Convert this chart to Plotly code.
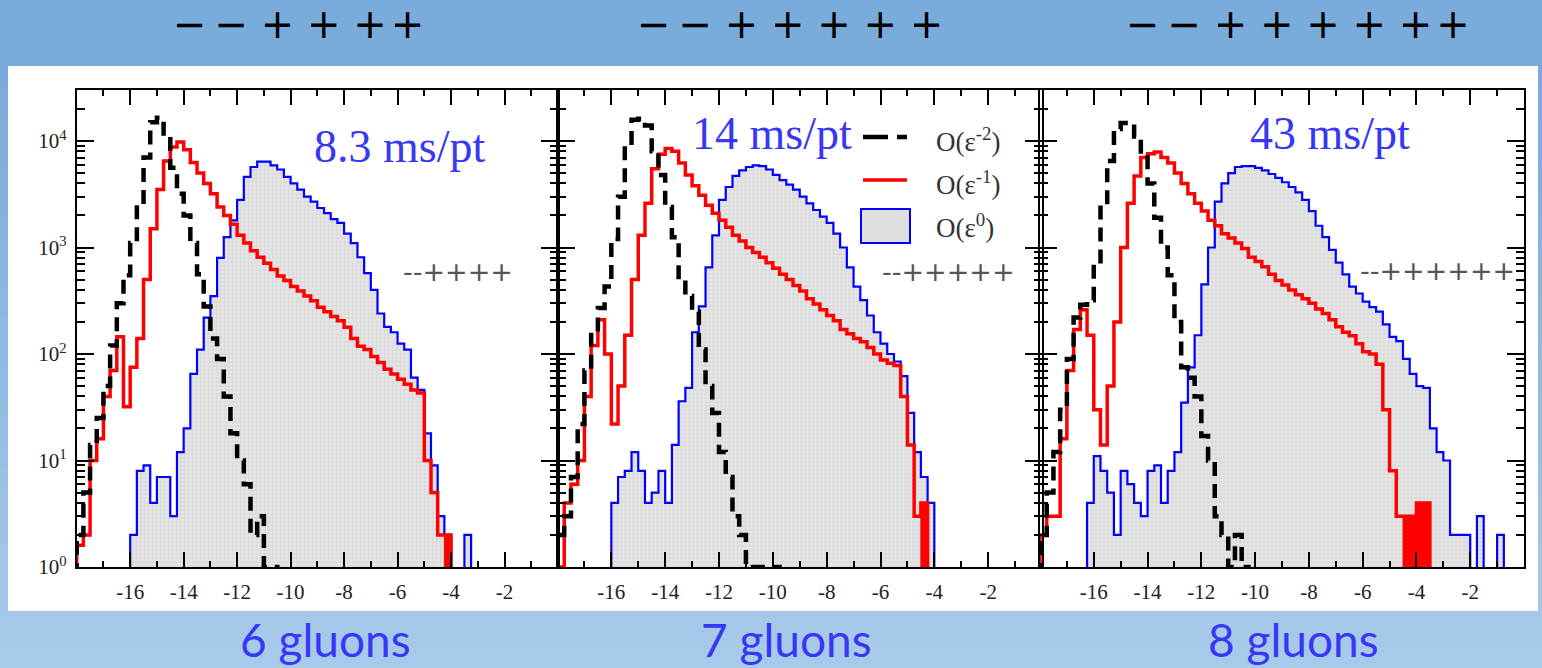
import numpy as np
import plotly.graph_objects as go

W, H = 1542, 668
BIN = 0.25  # histogram bin width (log10 units)

# ---------------- text / labels ----------------
GLUONS = ["6 gluons", "7 gluons", "8 gluons"]
TIMING = ["8.3 ms/pt", "14 ms/pt", "43 ms/pt"]
HEL_SMALL = ["--++++", "--+++++", "--++++++"]
HEL_BIG = ["\u2212\u2009\u2212 + + +\u200a+",
           "\u2212\u2009\u2212 + + + + +",
           "\u2212\u2009\u2212 + + + + +\u200a+"]
LEGEND = ["O(\u03b5<sup>-2</sup>)", "O(\u03b5<sup>-1</sup>)", "O(\u03b5<sup>0</sup>)"]
X_TICKS = [-16, -14, -12, -10, -8, -6, -4, -2]
X_MINOR = [-17, -15, -13, -11, -9, -7, -5, -3, -1]
Y_TICKS = [1, 10, 100, 1000, 10000]
Y_TICKTEXT = ["10<sup>0</sup>", "10<sup>1</sup>", "10<sup>2</sup>", "10<sup>3</sup>", "10<sup>4</sup>"]
Y_MINOR = [m * 10 ** k for k in range(0, 5) for m in range(2, 10)]

# ---------------- data: counts per bin, first bin edge given ----------------
# 6 gluons
P1_BLACK_START = -18.0
P1_BLACK = [2, 5, 14, 25, 50, 120, 300, 550, 1100, 2500, 7000, 15000, 16500, 11000, 5600, 3200,
            2000, 1100, 560, 280, 140, 90, 40, 18, 10, 6, 2, 3, 1, 1]
P1_RED_START = -18.0
P1_RED = [1.6, 2, 10, 16, 40, 70, 145, 32, 75, 140, 500, 1500, 3500, 6500, 8800, 9800,
          8300, 6300, 5000, 4000, 3200, 2400, 2000, 1650, 1300, 1100, 930, 810, 710, 620, 540, 490,
          430, 390, 350, 316, 275, 250, 225, 205, 178, 140, 118, 110, 95, 83, 72, 65,
          58, 52, 46, 43, 10, 5, 2, 2]
P1_RED_SOLID = (-4.25, -4.0)  # x-range where the red histogram is drawn solid
P1_BLUE_START = -16.0
P1_BLUE = [2, 8, 9, 4, 7, 7, 3, 12, 20, 65, 110, 220, 350, 800, 1250, 1800,
           2800, 4600, 5700, 6400, 6400, 5900, 5400, 4600, 4000, 3500, 3000, 2700, 2350, 2100, 1850, 1700,
           1350, 1100, 810, 575, 400, 240, 180, 160, 125, 110, 60, 46, 18, 9, 3, 2,
           0, 0, 2]

# 7 gluons
P2_BLACK_START = -18.0
P2_BLACK = [2, 3, 7, 22, 70, 160, 270, 430, 1200, 3000, 9000, 15800, 16200, 14000, 8000, 4800,
            2400, 1250, 500, 350, 250, 110, 50, 28, 12, 7, 3, 2, 1, 1, 1, 1, 1]
P2_RED_START = -18.0
P2_RED = [1, 4, 6, 10, 40, 120, 210, 100, 22, 50, 150, 500, 1300, 2600, 5500, 7500,
          8500, 8000, 6200, 4800, 3800, 3100, 2500, 2100, 1800, 1550, 1300, 1150, 1000, 900, 810, 720,
          640, 560, 500, 440, 390, 330, 295, 260, 230, 205, 170, 155, 140, 130, 115, 100,
          88, 82, 78, 40, 14, 3, 4]
P2_RED_SOLID = (-4.5, -4.25)
P2_BLUE_START = -16.0
P2_BLUE = [4, 7, 8, 12, 8, 4, 5, 8, 4, 14, 36, 48, 160, 280, 650, 1300,
           2800, 3700, 4700, 5300, 5700, 5900, 5800, 5400, 4800, 4300, 3900, 3500, 3000, 2600, 2250, 1950,
           1700, 1350, 1000, 650, 430, 320, 230, 160, 125, 100, 85, 62, 28, 12, 7, 4]

# 8 gluons
P3_BLACK_START = -18.0
P3_BLACK = [2, 5, 12, 30, 90, 220, 290, 320, 700, 2500, 6500, 13000, 14800, 14800, 11000, 7500,
            4000, 1900, 1000, 550, 200, 75, 60, 40, 17, 10, 3, 2, 1, 2, 1]
P3_RED_START = -18.0
P3_RED = [2, 3, 3, 16, 70, 170, 260, 150, 30, 14, 50, 200, 1000, 2600, 4700, 7000,
          7600, 7900, 7000, 6200, 5000, 4000, 3200, 2600, 2200, 1800, 1600, 1350, 1230, 1100, 980, 810,
          740, 660, 560, 490, 445, 400, 360, 330, 300, 265, 240, 210, 180, 160, 148, 125,
          105, 100, 80, 30, 8, 3, 3, 3, 4, 4]
P3_RED_SOLID = (-4.5, -3.5)
P3_BLUE_START = -16.25
P3_BLUE = [4, 11, 8, 5, 2, 8, 6, 4, 3, 8, 9, 4, 8, 12, 35, 75,
           150, 450, 1000, 2700, 4000, 5000, 5700, 5800, 5800, 5600, 5300, 4900, 4500, 4100, 3700, 3300,
           2800, 2200, 1600, 1250, 950, 720, 560, 430, 370, 310, 275, 250, 190, 145, 132, 90,
           65, 50, 48, 20, 12, 10, 2, 2, 2, 0, 3, 0, 0, 2]

PANELS = [
    dict(black=(P1_BLACK_START, P1_BLACK), red=(P1_RED_START, P1_RED), blue=(P1_BLUE_START, P1_BLUE), solid=P1_RED_SOLID),
    dict(black=(P2_BLACK_START, P2_BLACK), red=(P2_RED_START, P2_RED), blue=(P2_BLUE_START, P2_BLUE), solid=P2_RED_SOLID),
    dict(black=(P3_BLACK_START, P3_BLACK), red=(P3_RED_START, P3_RED), blue=(P3_BLUE_START, P3_BLUE), solid=P3_RED_SOLID),
]

# ---------------- layout geometry (pixels) ----------------
PANEL_X = [(76.7, 558.0), (557.5, 1042.0), (1040.0, 1524.0)]
PLOT_TOP, PLOT_BOT = 90.0, 567.0
Y_RANGE = [0, 4.479]


def fx(p):
    return p / W


def fy(p):
    return 1 - p / H


FLOOR = 0.5  # below the axis minimum: zero bins drop out of view


def step_path(start, vals):
    xs, ys = [start], [FLOOR]
    for i, v in enumerate(vals):
        y = v if v > 0 else FLOOR
        xs += [start + i * BIN, start + (i + 1) * BIN]
        ys += [y, y]
    xs.append(start + len(vals) * BIN)
    ys.append(FLOOR)
    return xs, ys


def solid_path(start, vals, lo, hi):
    xs, ys = [], []
    for i, v in enumerate(vals):
        a, b = start + i * BIN, start + (i + 1) * BIN
        if a >= lo - 1e-9 and b <= hi + 1e-9 and v > 0:
            xs += [a, a, b, b, a, None]
            ys += [FLOOR, v, v, FLOOR, FLOOR, None]
    return xs, ys


fig = go.Figure()

BLUE = "#0000ff"
RED = "#ff0000"
TXT_BLUE = "rgb(55,55,245)"

for i, p in enumerate(PANELS):
    sfx = "" if i == 0 else str(i + 1)
    xr, yr = "x" + sfx, "y" + sfx

    bx, by = step_path(*p["blue"])
    fig.add_trace(go.Scatter(
        x=bx, y=by, xaxis=xr, yaxis=yr, mode="lines", fill="toself",
        fillcolor="#e1e1e1",
        fillpattern=dict(shape=".", size=4, solidity=0.35, fgcolor="#f4f4f4", bgcolor="#dcdcdc"),
        line=dict(color=BLUE, width=2.2), showlegend=False, hoverinfo="skip"))

    if p["solid"] is not None:
        sx, sy = solid_path(p["red"][0], p["red"][1], *p["solid"])
        fig.add_trace(go.Scatter(
            x=sx, y=sy, xaxis=xr, yaxis=yr, mode="lines", fill="toself",
            fillcolor=RED, line=dict(color=RED, width=1), showlegend=False, hoverinfo="skip"))

    rx, ry = step_path(*p["red"])
    fig.add_trace(go.Scatter(
        x=rx, y=ry, xaxis=xr, yaxis=yr, mode="lines",
        line=dict(color=RED, width=3.5), showlegend=False, hoverinfo="skip"))

    kx, ky = step_path(*p["black"])
    fig.add_trace(go.Scatter(
        x=kx, y=ky, xaxis=xr, yaxis=yr, mode="lines",
        line=dict(color="black", width=4.5, dash="14px,8px"), showlegend=False, hoverinfo="skip"))

    l, r = PANEL_X[i]
    fig.layout["xaxis" + sfx] = dict(
        domain=[fx(l), fx(r)], range=[-18, 0], anchor=yr, automargin=False,
        showgrid=False, zeroline=False, showline=True, linecolor="black", linewidth=2,
        mirror="ticks", ticks="inside", ticklen=15, tickwidth=2, tickcolor="black",
        tickmode="array", tickvals=X_TICKS, ticktext=[str(t) for t in X_TICKS],
        tickfont=dict(family="Liberation Serif", size=21, color="#222"),
        ticklabelstandoff=5,
        minor=dict(ticks="inside", ticklen=6, tickwidth=2, tickcolor="black",
                   tickmode="array", tickvals=X_MINOR, showgrid=False),
    )
    fig.layout["yaxis" + sfx] = dict(
        domain=[fy(PLOT_BOT), fy(PLOT_TOP)], type="log", range=Y_RANGE, anchor=xr, automargin=False,
        showgrid=False, zeroline=False, showline=True, linecolor="black", linewidth=2,
        mirror="ticks", ticks="inside", ticklen=17, tickwidth=2, tickcolor="black",
        tickmode="array", tickvals=Y_TICKS, ticktext=Y_TICKTEXT,
        showticklabels=(i == 0),
        tickfont=dict(family="Liberation Serif", size=21, color="#222"),
        ticklabelstandoff=4,
        minor=dict(ticks="inside", ticklen=8, tickwidth=2, tickcolor="black",
                   tickmode="array", tickvals=Y_MINOR, showgrid=False),
    )

# ---------------- background ----------------
shapes = []
c0 = np.array([121, 171, 219])
c1 = np.array([170, 203, 235])
NSTRIP = 24
for k in range(NSTRIP):
    y0 = 66 + (H - 66) * k / NSTRIP
    y1 = 66 + (H - 66) * (k + 1) / NSTRIP + 1
    c = c0 + (c1 - c0) * (k + 0.5) / NSTRIP
    shapes.append(dict(type="rect", xref="paper", yref="paper", layer="below",
                       x0=0, x1=1, y0=fy(y1), y1=fy(y0), line=dict(width=0),
                       fillcolor="rgb(%d,%d,%d)" % tuple(c.astype(int))))
shapes.append(dict(type="rect", xref="paper", yref="paper", layer="below",
                   x0=0, x1=1, y0=fy(66), y1=1, line=dict(width=0), fillcolor="rgb(121,171,219)"))
shapes.append(dict(type="rect", xref="paper", yref="paper", layer="below",
                   x0=fx(8), x1=fx(1538), y0=fy(611), y1=fy(66), line=dict(width=0), fillcolor="white"))

# legend (panel 2)
shapes.append(dict(type="line", xref="paper", yref="paper", x0=fx(863), x1=fx(907), y0=fy(137), y1=fy(137),
                   line=dict(color="black", width=4.5, dash="25px,9px")))
shapes.append(dict(type="line", xref="paper", yref="paper", x0=fx(863), x1=fx(907), y0=fy(180), y1=fy(180),
                   line=dict(color=RED, width=3.5)))
shapes.append(dict(type="rect", xref="paper", yref="paper", x0=fx(861), x1=fx(910), y0=fy(243), y1=fy(209),
                   line=dict(color=BLUE, width=2), fillcolor="#dedede"))

annotations = []
TIMING_POS = [(399, 146), (772, 134), (1330, 134)]
HEL_SMALL_POS = [(458, 271), (948, 271), (1437, 270)]
HEL_BIG_POS = [(298, 24), (790, 24), (1298, 24)]
GLUON_POS = [(325, 639), (786, 639), (1293, 639)]
for i in range(3):
    annotations.append(dict(xref="paper", yref="paper", x=fx(TIMING_POS[i][0]), y=fy(TIMING_POS[i][1]),
                            text=TIMING[i], showarrow=False, xanchor="center", yanchor="middle",
                            font=dict(family="Liberation Serif", size=46, color=TXT_BLUE)))
    annotations.append(dict(xref="paper", yref="paper", x=fx(HEL_SMALL_POS[i][0]), y=fy(HEL_SMALL_POS[i][1]),
                            text=HEL_SMALL[i], showarrow=False, xanchor="center", yanchor="middle",
                            font=dict(family="DejaVu Sans", size=27, color="#555")))
    annotations.append(dict(xref="paper", yref="paper", x=fx(HEL_BIG_POS[i][0]), y=fy(HEL_BIG_POS[i][1]),
                            text=HEL_BIG[i], showarrow=False, xanchor="center", yanchor="middle",
                            font=dict(family="DejaVu Sans", size=40, color="black")))
    annotations.append(dict(xref="paper", yref="paper", x=fx(GLUON_POS[i][0]), y=fy(GLUON_POS[i][1]),
                            text=GLUONS[i], showarrow=False, xanchor="center", yanchor="middle",
                            font=dict(family="Lato", size=46, color=TXT_BLUE)))
for j, yy in enumerate([140, 183, 226]):
    annotations.append(dict(xref="paper", yref="paper", x=fx(934), y=fy(yy), text=LEGEND[j],
                            showarrow=False, xanchor="left", yanchor="middle",
                            font=dict(family="Liberation Serif", size=27, color="#333")))

fig.update_layout(
    width=W, height=H, margin=dict(l=0, r=0, t=0, b=0, autoexpand=False),
    paper_bgcolor="rgb(145,186,228)", plot_bgcolor="rgba(0,0,0,0)",
    shapes=shapes, annotations=annotations, showlegend=False,
)

fig.write_html("out.html", config={"displayModeBar": False},
               post_script="document.body.style.margin='0px';document.body.style.overflow='hidden';")
